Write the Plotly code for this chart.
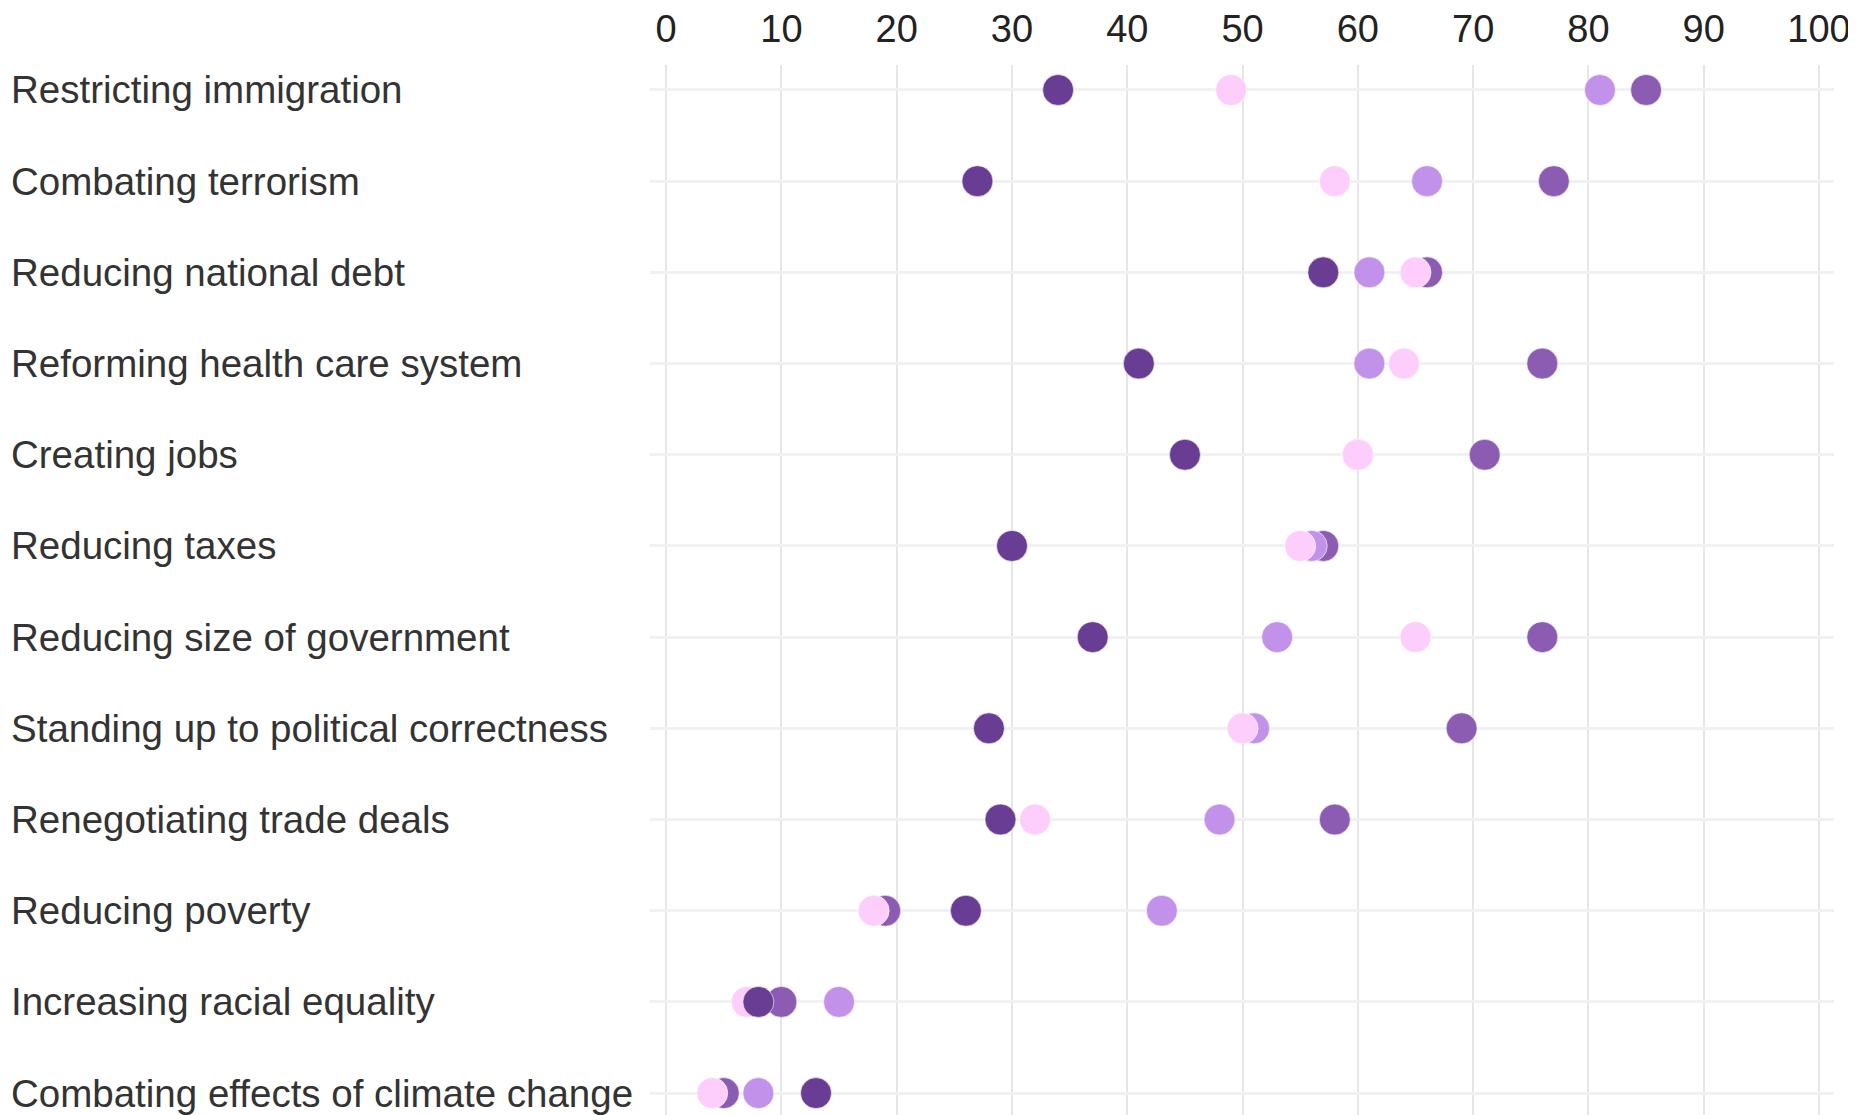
import plotly.graph_objects as go

categories = [
    "Restricting immigration",
    "Combating terrorism",
    "Reducing national debt",
    "Reforming health care system",
    "Creating jobs",
    "Reducing taxes",
    "Reducing size of government",
    "Standing up to political correctness",
    "Renegotiating trade deals",
    "Reducing poverty",
    "Increasing racial equality",
    "Combating effects of climate change",
]

# series (drawn in this order; later ones sit on top)
group_medium = [85, 77, 66, 76, 71, 57, 76, 69, 58, 19, 10, 5]
group_light = [81, 66, 61, 61, 60, 56, 53, 51, 48, 43, 15, 8]
group_pink = [49, 58, 65, 64, 60, 55, 65, 50, 32, 18, 7, 4]
group_dark = [34, 27, 57, 41, 45, 30, 37, 28, 29, 26, 8, 13]

x_ticks = [0, 10, 20, 30, 40, 50, 60, 70, 80, 90, 100]

series = [
    ("Group B", group_medium, "#8b5cb2"),
    ("Group C", group_light, "#c291ea"),
    ("Group D", group_pink, "#fdcdfb"),
    ("Group A", group_dark, "#6a3d95"),
]

fig = go.Figure()
for name, vals, color in series:
    fig.add_trace(go.Scatter(
        x=vals, y=categories, mode="markers", name=name,
        marker=dict(size=31, color=color,
                    line=dict(width=1, color="rgba(255,255,255,0.6)")),
        showlegend=False,
    ))

for cat in categories:
    fig.add_annotation(
        x=-0.5417, xref="paper", y=cat, yref="y",
        text=cat, showarrow=False, xanchor="left", yanchor="middle",
        font=dict(family="Liberation Sans, Arial, sans-serif", size=38.5, color="#333333"),
    )

fig.update_layout(
    width=1848, height=1107,
    margin=dict(l=642, r=22, t=57, b=0),
    paper_bgcolor="white", plot_bgcolor="white",
    font=dict(family="Liberation Sans, Arial, sans-serif", color="#333333"),
    xaxis=dict(
        side="top", range=[-1.4, 101.3], tickvals=x_ticks,
        ticktext=[str(v) for v in x_ticks],
        showgrid=True, gridcolor="#e6e6e6", gridwidth=2,
        zeroline=False, showline=False, ticks="",
        tickfont=dict(size=38, color="#222222"),
        ticklabelstandoff=14,
    ),
    yaxis=dict(
        type="category", categoryorder="array", categoryarray=categories,
        range=[11.24, -0.274], showticklabels=False,
        showgrid=True, gridcolor="#f1f1f1", gridwidth=3,
        zeroline=False, showline=False, ticks="",
    ),
)

fig.write_html("out.html")
